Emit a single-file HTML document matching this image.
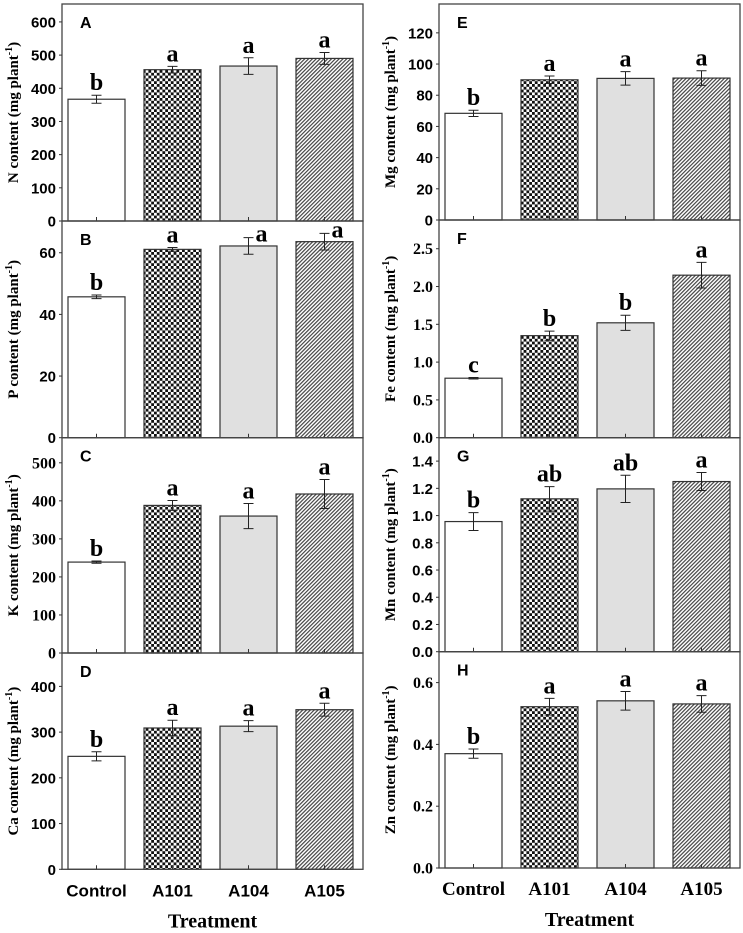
<!DOCTYPE html>
<html><head><meta charset="utf-8"><style>
html,body{margin:0;padding:0;background:#fff;}
svg{display:block;}
</style></head><body>
<svg id="chart" width="743" height="933" viewBox="0 0 743 933" xmlns="http://www.w3.org/2000/svg">
<defs>
<pattern id="checker" width="5.6" height="5.6" patternUnits="userSpaceOnUse">
<rect width="5.6" height="5.6" fill="#fff"/><rect width="2.8" height="2.8" fill="#111"/><rect x="2.8" y="2.8" width="2.8" height="2.8" fill="#111"/>
</pattern>
<pattern id="hatch" width="2.7" height="2.7" patternUnits="userSpaceOnUse" patternTransform="rotate(45)">
<rect width="2.7" height="2.7" fill="#fff"/><rect width="1.2" height="2.7" fill="#444"/>
</pattern>
</defs>
<g id="root"></g>
</svg>
<script>
const categories = ["Control","A101","A104","A105"];
const nValues = [367,456,467,490];
const nErrors = [12,10,25,18];
const nLetters = ["b","a","a","a"];
const pValues = [45.7,61.1,62.2,63.6];
const pErrors = [0.6,0.6,2.7,2.7];
const pLetters = ["b","a","a","a"];
const kValues = [239,388,360,418];
const kErrors = [3,13,33,38];
const kLetters = ["b","a","a","a"];
const caValues = [247,309,313,349];
const caErrors = [10,17,12,14];
const caLetters = ["b","a","a","a"];
const mgValues = [68.4,89.9,90.8,91];
const mgErrors = [2,2.4,4.3,4.7];
const mgLetters = ["b","a","a","a"];
const feValues = [0.787,1.35,1.52,2.15];
const feErrors = [0.01,0.06,0.1,0.17];
const feLetters = ["c","b","b","a"];
const mnValues = [0.956,1.123,1.196,1.25];
const mnErrors = [0.066,0.09,0.1,0.066];
const mnLetters = ["b","ab","ab","a"];
const znValues = [0.37,0.522,0.541,0.531];
const znErrors = [0.015,0.027,0.03,0.027];
const znLetters = ["b","a","a","a"];
const nTicks = [0,100,200,300,400,500,600];
const pTicks = [0,20,40,60];
const kTicks = [0,100,200,300,400,500];
const caTicks = [0,100,200,300,400];
const mgTicks = [0,20,40,60,80,100,120];
const feTicks = [0,0.5,1.0,1.5,2.0,2.5];
const mnTicks = [0,0.2,0.4,0.6,0.8,1.0,1.2,1.4];
const znTicks = [0,0.2,0.4,0.6];

const NS="http://www.w3.org/2000/svg";
const root=document.getElementById('root');
function mk(tag,attrs,parent){const e=document.createElementNS(NS,tag);for(const k in attrs)e.setAttribute(k,attrs[k]);(parent||root).appendChild(e);return e;}
const fills=["#fff","url(#checker)","#e0e0e0","url(#hatch)"];
const ARIAL='"Liberation Sans", Arial, sans-serif', TIMES='"Liberation Serif", "Times New Roman", serif';

const panels=[
 {id:"a",el:"N",x0:62,top:4,bot:221,max:654,vals:nValues,errs:nErrors,let:nLetters,ticks:nTicks,dec:0,tf:ARIAL},
 {id:"b",el:"P",x0:62,top:221,bot:437.7,max:70.3,vals:pValues,errs:pErrors,let:pLetters,ticks:pTicks,dec:0,tf:ARIAL,clamp:true},
 {id:"c",el:"K",x0:62,top:437.7,bot:653,max:566,vals:kValues,errs:kErrors,let:kLetters,ticks:kTicks,dec:0,tf:TIMES},
 {id:"d",el:"Ca",x0:62,top:653,bot:869.3,max:473,vals:caValues,errs:caErrors,let:caLetters,ticks:caTicks,dec:0,tf:ARIAL,xlab:true},
 {id:"e",el:"Mg",x0:439,top:4,bot:220,max:138.5,vals:mgValues,errs:mgErrors,let:mgLetters,ticks:mgTicks,dec:0,tf:ARIAL},
 {id:"f",el:"Fe",x0:439,top:220,bot:437.7,max:2.88,vals:feValues,errs:feErrors,let:feLetters,ticks:feTicks,dec:1,tf:TIMES},
 {id:"g",el:"Mn",x0:439,top:437.7,bot:651.7,max:1.572,vals:mnValues,errs:mnErrors,let:mnLetters,ticks:mnTicks,dec:1,tf:ARIAL},
 {id:"h",el:"Zn",x0:439,top:651.7,bot:868,max:0.70,vals:znValues,errs:znErrors,let:znLetters,ticks:znTicks,dec:1,tf:TIMES,xlab:true}
];
const W=301, step=76, bw=57, off=6;

panels.forEach(p=>{
 const g=mk('g',{});
 
 
 const y=v=>p.bot-(v/p.max)*(p.bot-p.top);
 p.vals.forEach((v,i)=>{
  const bx=p.x0+off+i*step;
  const r=mk('rect',{x:bx,y:y(v),width:bw,height:p.bot-y(v),fill:fills[i],stroke:'#333','stroke-width':1.2},g);
  
  
  const cx=bx+bw/2, e=p.errs[i];
  const eb=mk('path',{d:`M${cx},${y(v-e)}V${y(v+e)}M${cx-5},${y(v-e)}H${cx+5}M${cx-5},${y(v+e)}H${cx+5}`,stroke:'#222','stroke-width':1,fill:'none'},g);
  
  
  let ly=y(v+e)-5, lx=cx;
  if(p.clamp && ly<p.top+20){ly=Math.max(ly+9,p.top+16);lx=cx+13;}
  const t=mk('text',{x:lx,y:ly,'text-anchor':'middle','font-family':TIMES,'font-weight':'bold','font-size':24,fill:'#000'},g);
  t.textContent=p.let[i];
  
  
  mk('line',{x1:cx,x2:cx,y1:p.bot,y2:p.bot-4,stroke:'#333','stroke-width':1},g);
 });
 const fr=mk('rect',{x:p.x0,y:p.top,width:W,height:p.bot-p.top,fill:'none',stroke:'#444','stroke-width':1.3},g);
 
 
 p.ticks.forEach(tv=>{
  const ty=y(tv);
  mk('line',{x1:p.x0-3,x2:p.x0,y1:ty,y2:ty,stroke:'#333','stroke-width':1},g);
  const t=mk('text',{x:p.x0-6,y:ty+5.5,'text-anchor':'end','font-family':p.tf,'font-weight':'bold','font-size':p.tf===TIMES?16:15,fill:'#000'},g);
  t.textContent=tv.toFixed(p.dec);
  
  
 });
 const pl=mk('text',{x:p.x0+18,y:p.top+24,'font-family':ARIAL,'font-weight':'bold','font-size':16,fill:'#000'},g);
 pl.textContent=p.id.toUpperCase();
 
 
 const cy=(p.top+p.bot)/2, tx=p.x0-44;
 const yt=mk('text',{x:tx,y:cy,transform:`rotate(-90 ${tx} ${cy})`,'text-anchor':'middle','font-family':TIMES,'font-weight':'bold','font-size':15,fill:'#000'},g);
 
 
 mk('tspan',{},yt).textContent=p.el+' content (mg plant';
 mk('tspan',{'font-size':10,dy:-6},yt).textContent='-1';
 mk('tspan',{dy:6},yt).textContent=')';
 if(p.xlab){
  categories.forEach((c,i)=>{
   const t=mk('text',{x:p.x0+off+i*step+bw/2,y:p.bot+27,'text-anchor':'middle','font-family':p.tf===TIMES?TIMES:ARIAL,'font-weight':'bold','font-size':p.tf===TIMES?19:17,fill:'#000'},g);
   t.textContent=c;
   
   
  });
  const xt=mk('text',{x:p.x0+W/2,y:p.bot+58,'text-anchor':'middle','font-family':TIMES,'font-weight':'bold','font-size':20,fill:'#000'},g);
  xt.textContent='Treatment';
  
  
 }
});
</script>
</body></html>
